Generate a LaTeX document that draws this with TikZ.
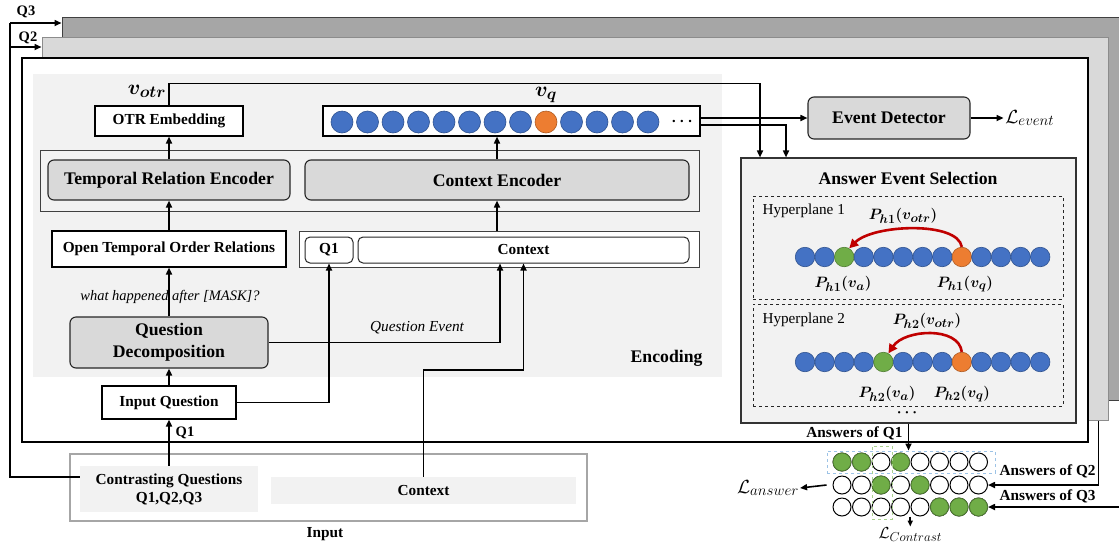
\RequirePackage{fix-cm}
\documentclass[tikz,border=0pt]{standalone}
\usepackage{fontspec}
\setmainfont{Liberation Serif}
\usepackage{bm}
\usetikzlibrary{arrows.meta,calc}
\DeclareMathSizes{19}{19}{15}{11}
\DeclareMathSizes{16}{16}{13}{10}
\DeclareMathSizes{15}{15}{12.5}{10}
\DeclareMathSizes{21}{21}{16.5}{12}
\definecolor{bgray}{HTML}{D9D9D9}
\definecolor{lgray}{HTML}{F2F2F2}
\definecolor{dgray}{HTML}{A6A6A6}
\definecolor{cblue}{HTML}{4472C4}
\definecolor{cblueb}{HTML}{2F528F}
\definecolor{corange}{HTML}{ED7D31}
\definecolor{coranb}{HTML}{AE5A21}
\definecolor{cgreen}{HTML}{70AD47}
\definecolor{cgreenb}{HTML}{507E32}
\definecolor{cred}{HTML}{C00000}
\definecolor{dblue}{HTML}{9DC3E6}
\definecolor{dgreen}{HTML}{A9D18E}
\begin{document}
\begin{tikzpicture}[x=1pt,y=-1pt,
  big/.style={font=\fontsize{17.7}{20}\selectfont\bfseries},
  sm/.style={font=\fontsize{15.3}{18}\selectfont\bfseries},
  itl/.style={font=\fontsize{14.5}{17}\selectfont\itshape},
  reg/.style={font=\fontsize{15.2}{18}\selectfont},
  mlab/.style={font=\fontsize{15}{18}\selectfont, inner sep=0pt},
  vlab/.style={font=\fontsize{21}{24}\selectfont, inner sep=0pt},
  llab/.style={font=\fontsize{19}{21}\selectfont, inner sep=1pt},
  wbox/.style={draw=black, line width=1.1pt, fill=white, inner sep=0pt, sm},
  gbox/.style={draw=black!85, line width=1.1pt, fill=bgray, rounded corners=6pt, inner sep=0pt, big, align=center},
  obox/.style={draw=black!75, line width=1pt, inner sep=0pt},
  rbox/.style={draw=black!85, line width=1pt, fill=white, rounded corners=5pt, inner sep=0pt, sm},
  conn/.style={line width=1.6pt},
  arr/.style={line width=1.6pt, -{Triangle[length=7pt,width=6pt]}},
  redarr/.style={draw=cred, line width=2.6pt, -{Triangle[length=9pt,width=9pt]}},
  blball/.style={circle, inner sep=0pt, minimum size=#1, fill=cblue, draw=cblueb, line width=0.6pt},
  orball/.style={circle, inner sep=0pt, minimum size=#1, fill=corange, draw=coranb, line width=0.6pt},
  grball/.style={circle, inner sep=0pt, minimum size=#1, fill=cgreen, draw=cgreenb, line width=0.6pt},
  ecirc/.style={circle, inner sep=0pt, minimum size=18pt, fill=white, draw=black, line width=1pt},
  fcirc/.style={circle, inner sep=0pt, minimum size=18pt, fill=cgreen, draw=cgreenb, line width=0.8pt}
]
\useasboundingbox (0,0) rectangle (1119,542);
\begin{scope}
\clip (0,0) rectangle (1119,542);
% stacked layers
\node[draw=black!75, line width=1pt, fill=dgray, minimum width=1078pt, minimum height=383pt, inner sep=0pt] (lay3) at (601,208.5) {};
\node[draw=black!45, line width=1pt, fill=bgray, minimum width=1066pt, minimum height=383pt, inner sep=0pt] (lay2) at (575,228.5) {};
\node[draw=black, line width=1.3pt, fill=white, minimum width=1066pt, minimum height=384pt, inner sep=0pt] (lay1) at (555,250) {};
% encoding region
\node[fill=lgray, minimum width=689pt, minimum height=303pt, inner sep=0pt] (enc) at (377.5,225.5) {};
\node[big, anchor=east] (encl) at (706,358) {Encoding};

% encoding boxes
\node[wbox, minimum width=148pt, minimum height=30pt] (otr) at (169,121) {OTR Embedding};
\node[wbox, minimum width=377pt, minimum height=30pt] (vqb) at (511.5,121) {};
\foreach \i in {0,...,12}{
  \ifnum\i=8 \def\bst{orball}\else\def\bst{blball}\fi
  \node[\bst=22pt] (vqc\i) at ({342+25.5*\i},122) {};
}
\node[font=\fontsize{16}{18}\selectfont] (vqdots) at (682,122) {$\bm{\cdots}$};
\node[obox, minimum width=659pt, minimum height=61pt] (encout) at (369.5,180.5) {};
\node[gbox, minimum width=242pt, minimum height=40pt] (tre) at (169,180) {Temporal Relation Encoder};
\node[gbox, minimum width=384pt, minimum height=40pt] (ce) at (497,180) {Context Encoder};
\node[wbox, minimum width=234pt, minimum height=36pt] (otor) at (169,249) {Open Temporal Order Relations};
\node[obox, fill=white, minimum width=400pt, minimum height=36pt] (qcout) at (499,249) {};
\node[rbox, minimum width=48pt, minimum height=26pt] (q1) at (329,250) {Q1};
\node[rbox, minimum width=331pt, minimum height=26pt] (ctxb) at (523.5,250) {Context};
\node[gbox, minimum width=198pt, minimum height=51pt, font=\fontsize{17.7}{22}\selectfont\bfseries] (qd) at (169,342.5) {Question\\Decomposition};
\node[wbox, minimum width=134pt, minimum height=33pt] (iq) at (169,402.5) {Input Question};

% input region
\node[draw=dgray, line width=1.6pt, minimum width=517pt, minimum height=67pt, inner sep=0pt] (inbox) at (328.5,487.5) {};
\node[fill=lgray, minimum width=178pt, minimum height=46pt, inner sep=0pt, sm, align=center] (cq) at (169,489) {Contrasting Questions\\Q1,Q2,Q3};
\node[fill=lgray, minimum width=305pt, minimum height=27pt, inner sep=0pt, sm] (ictx) at (423.5,490.5) {Context};
\node[sm] (inl) at (325,534) {Input};

% left feedback lines
\coordinate (c3) at (10,23);
\coordinate (c2) at (10,47);
\draw[conn] ([yshift=12pt]cq.west) -| (c3);
\draw[arr] (c3) -- (c3 -| lay3.west);
\draw[arr] (c2) -- (c2 -| lay2.west);
\node[sm, font=\fontsize{14.5}{16}\selectfont\bfseries] (q3l) at (26,12) {Q3};
\node[sm, font=\fontsize{14.5}{16}\selectfont\bfseries] (q2l) at (28,38) {Q2};

% encoding connectors
\draw[arr] (cq.north) -- (iq.south);
\node[sm, font=\fontsize{14.5}{16}\selectfont\bfseries] (q1lab) at (185,433) {Q1};
\draw[arr] (iq.north) -- (qd.south);
\draw[arr] (qd.north) -- (otor.south);
\node[itl] (mask) at (170,297) {what happened after [MASK]?};
\draw[arr] (otor.north) -- (tre.south);
\draw[arr] (tre.north) -- (otr.south);
\node[vlab] (votr) at (147,91) {$\bm{v_{otr}}$};
\draw[arr] (ce.north) -- (ce.north |- vqb.south);
\node[vlab] (vql) at (546,95) {$\bm{v_{q}}$};
\draw[arr] (ce.south |- qcout.north) -- (ce.south);
\draw[arr] (iq.east) -| (q1.south);
\draw[arr] (qd.east) -| ([xshift=-23.5pt]ctxb.south);
\node[itl, font=\fontsize{15.3}{17}\selectfont\itshape] (qev) at (417,328) {Question Event};
\draw[arr] (ictx.north) -- ++(0,-107) -| (ctxb.south);

% event detector
\node[gbox, minimum width=162pt, minimum height=42pt] (ed) at (889,118) {Event Detector};
\draw[arr] ([yshift=3pt]vqb.east) -- (ed.west);
\draw[arr] (ed.east) -- ++(33,0) node[right, llab] (lev) {$\mathcal{L}_{event}$};

% answer event selection
\node[draw=black!80, line width=1.1pt, fill=lgray, minimum width=335pt, minimum height=265pt, inner sep=0pt] (aes) at (908.5,290.5) {};
\node[big] (aest) at (908,178) {Answer Event Selection};
\draw[arr] ([yshift=-4pt]vqb.east) -| ([xshift=-122.5pt]aes.north);
\draw[arr] (otr.north) -- ++(0,-22) -| ([xshift=-148.5pt]aes.north);
\node[draw=black!85, dashed, line width=1pt, minimum width=310pt, minimum height=103pt, inner sep=0pt] (hp1) at (908,247.5) {};
\node[draw=black!85, dashed, line width=1pt, minimum width=310pt, minimum height=102pt, inner sep=0pt] (hp2) at (908,355) {};
\node[reg, anchor=west] (h1t) at (759,211) {Hyperplane 1};
\node[reg, anchor=west] (h2t) at (759,320) {Hyperplane 2};
\foreach \i in {0,...,12}{
  \ifnum\i=2 \def\bst{grball}\else\ifnum\i=8 \def\bst{orball}\else\def\bst{blball}\fi\fi
  \node[\bst=19.5pt] (a\i) at ({805+19.6*\i},257) {};
  \ifnum\i=4 \def\bst{grball}\else\ifnum\i=8 \def\bst{orball}\else\def\bst{blball}\fi\fi
  \node[\bst=19.5pt] (b\i) at ({805+19.6*\i},362) {};
}
\draw[redarr] (a8.north) .. controls +(-4,-26) and +(24,-24) .. (a2.60);
\draw[redarr] (b8.north) .. controls +(-3,-26) and +(16,-24) .. (b4.60);
\node[mlab] (p1o) at (903,216) {$\bm{P_{h1}(v_{otr})}$};
\node[mlab] (p1a) at (843,284) {$\bm{P_{h1}(v_{a})}$};
\node[mlab] (p1q) at (965,284) {$\bm{P_{h1}(v_{q})}$};
\node[mlab] (p2o) at (927,321) {$\bm{P_{h2}(v_{otr})}$};
\node[mlab] (p2a) at (887,394) {$\bm{P_{h2}(v_{a})}$};
\node[mlab] (p2q) at (962,394) {$\bm{P_{h2}(v_{q})}$};
\node[font=\fontsize{15}{17}\selectfont] (aesdots) at (907,413) {$\bm{\cdots}$};

% answer grid
\foreach \rr/\yy in {1/462,2/485,3/507}{
  \foreach \cc in {1,...,8}{
    \node[ecirc] (g\rr-\cc) at ({842+19.5*(\cc-1)},\yy) {};
  }
}
\foreach \n in {1-1,1-2,1-4,2-3,2-5,3-6,3-7,3-8}{
  \node[fcirc] (f\n) at (g\n) {};
}
\node[draw=dblue, dashed, line width=1pt, minimum width=168pt, minimum height=22pt, inner sep=0pt] (rowsel) at (911,462) {};
\node[draw=dgreen, dashed, line width=1pt, minimum width=20pt, minimum height=73pt, inner sep=0pt] (colsel) at (882,482.5) {};
\draw[arr] (aes.south) -- (aes.south |- rowsel.north);
\node[sm, anchor=east] (aq1) at (906,433) {Answers of Q1};
\draw[arr] ([xshift=-10pt]lay2.south east) |- (g2-8.east);
\node[sm, anchor=west] (aq2) at (996,471) {Answers of Q2};
\coordinate (q3src) at (1130,507);
\draw[arr] (q3src) -- (g3-8.east);
\node[sm, anchor=west] (aq3) at (996,496) {Answers of Q3};
\node[llab] (lans) at (768,488) {$\mathcal{L}_{answer}$};
\draw[arr] ([xshift=-6pt]g2-1.west) -- (lans.east);
\coordinate (cmid) at ($(g3-4.south)!0.5!(g3-5.south)$);
\draw[arr, -{Triangle[length=6pt,width=5pt]}] (cmid) -- ++(0,10) node[below, inner sep=0pt, font=\fontsize{16}{18}\selectfont] (lcon) {$\mathcal{L}_{Contrast}$};
\end{scope}
\end{tikzpicture}
\end{document}
